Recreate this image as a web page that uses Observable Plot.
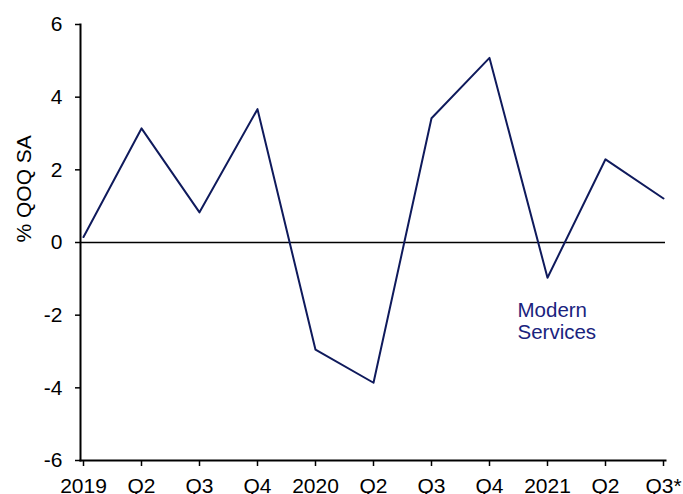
<!DOCTYPE html>
<html>
<head>
<meta charset="utf-8">
<script src="https://cdn.jsdelivr.net/npm/d3@7"></script>
<script src="https://cdn.jsdelivr.net/npm/@observablehq/plot@0.6"></script>
<style>
  html, body { margin: 0; padding: 0; background: #fff; }
  #chart { width: 683px; height: 494px; }
</style>
</head>
<body>
<div id="chart"></div>
<script>
const quarters = ["2019Q1","2019Q2","2019Q3","2019Q4","2020Q1","2020Q2","2020Q3","2020Q4","2021Q1","2021Q2","2021Q3"];
const tickLabels = ["2019","Q2","Q3","Q4","2020","Q2","Q3","Q4","2021","Q2","Q3*"];
const growth = [0.15, 3.14, 0.83, 3.67, -2.95, -3.86, 3.42, 5.08, -0.97, 2.29, 1.21];
const yTicks = [-6, -4, -2, 0, 2, 4, 6];
const seriesName = "Modern\nServices";
const yLabel = "% QOQ SA";

const data = quarters.map((q, i) => ({q, v: growth[i]}));
const labelOf = new Map(quarters.map((q, i) => [q, tickLabels[i]]));

const chart = Plot.plot({
  width: 683,
  height: 494,
  marginLeft: 80,
  marginRight: 18,
  marginTop: 24,
  marginBottom: 34,
  style: {fontFamily: "'Liberation Sans', Arial, sans-serif", fontSize: "21px", color: "#000", background: "#fff"},
  x: {type: "point", domain: quarters, padding: 0},
  y: {domain: [-6, 6]},
  marks: [
    Plot.axisY({ticks: yTicks, tickSize: 5, tickPadding: 13, label: null, tickFormat: d => String(d), fontSize: 21, strokeWidth: 1.5}),
    Plot.axisX({tickSize: 6, tickPadding: 12, label: null, tickFormat: d => labelOf.get(d), fontSize: 21, strokeWidth: 1.5}),
    Plot.frame({anchor: "left", stroke: "#000", strokeWidth: 2}),
    Plot.frame({anchor: "bottom", stroke: "#000", strokeWidth: 2}),
    Plot.ruleY([0], {stroke: "#000", strokeWidth: 1.3}),
    Plot.line(data, {x: "q", y: "v", stroke: "#0f1a5c", strokeWidth: 2}),
    Plot.text([seriesName], {x: () => "2020Q4", y: () => -2.15, text: d => d, dx: 28, textAnchor: "start", fill: "#1a237e", fontSize: 20.5, lineHeight: 1.08}),
    Plot.text([yLabel], {frameAnchor: "left", dx: -56, rotate: -90, text: d => d, fontSize: 21, fill: "#000"})
  ]
});
document.getElementById("chart").appendChild(chart);
</script>
</body>
</html>
